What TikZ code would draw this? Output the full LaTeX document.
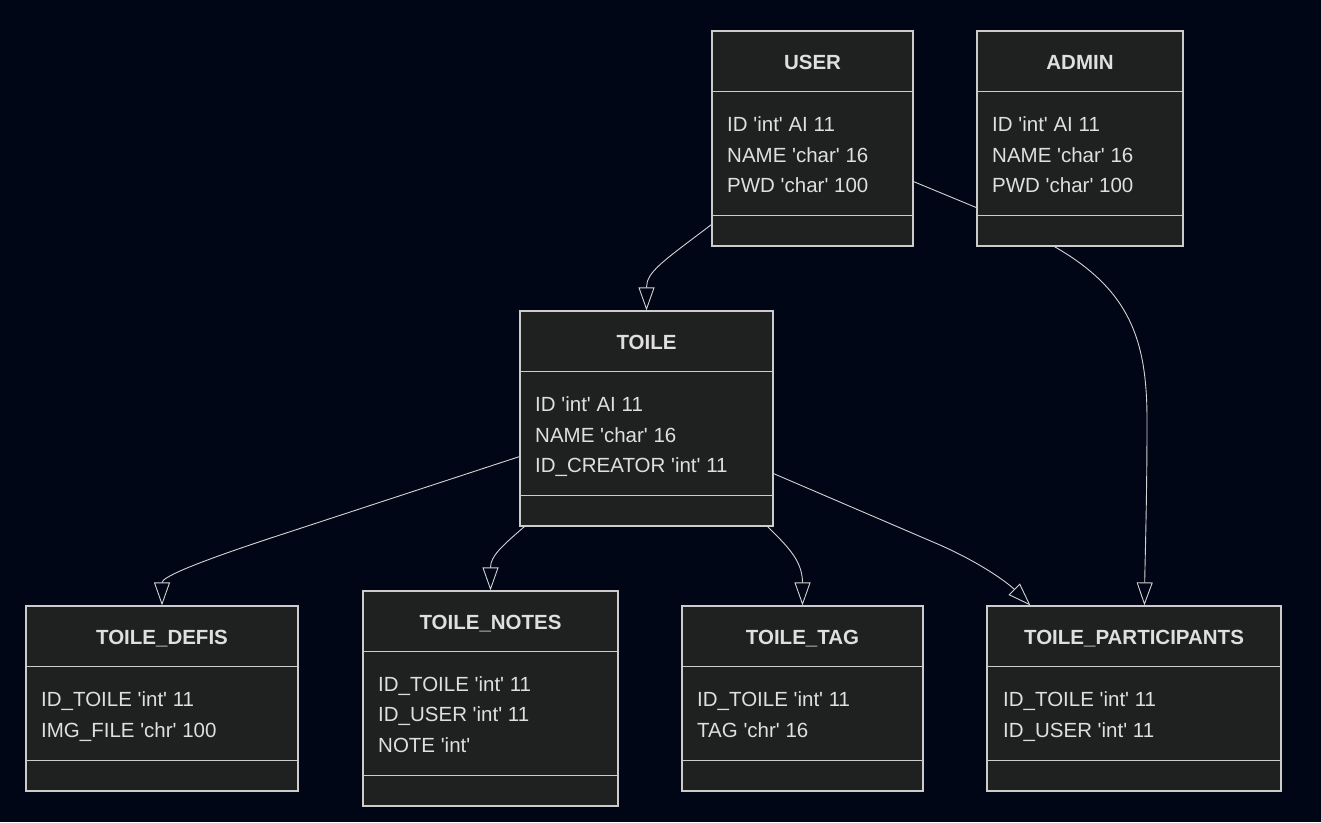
\documentclass[tikz,border=0pt]{standalone}
\usepackage{fontspec}
\newfontfamily\erdfont{Liberation Sans}
\usetikzlibrary{arrows.meta,calc}
\definecolor{erdbg}{HTML}{000615}
\definecolor{erdfill}{HTML}{1F2020}
\definecolor{erdborder}{HTML}{CCCCCC}
\definecolor{erdtext}{HTML}{E0DFDF}
\definecolor{erdline}{HTML}{D3D3D3}
\tikzset{
  classbox/.style={draw=erdborder, fill=erdfill, line width=1.2pt, inner sep=0pt},
  divider/.style={draw=erdborder, line width=1.2pt},
  classtitle/.style={text=erdtext, inner sep=0pt, text height=14.7pt, text depth=0pt,
    font=\erdfont\bfseries\fontsize{20.5}{24}\selectfont},
  attr/.style={text=erdtext, inner sep=0pt, anchor=west, text height=14.7pt, text depth=0pt,
    font=\erdfont\fontsize{20.5}{24}\selectfont},
  link/.style={draw=erdline, line width=0.9pt},
  inherit/.style={link, -{Triangle[open, width=16pt, length=23pt, line width=0.9pt]}}
}
\begin{document}
\begin{tikzpicture}[x=1pt, y=-1pt]
        \fill[erdbg] (0,0) rectangle (1321,822);
        \useasboundingbox (0,0) rectangle (1321,822);
        %% boxes
        \node[classbox, minimum width=201pt, minimum height=215pt] (user) at (812.5,138.5) {};
        \node[classbox, minimum width=206pt, minimum height=215pt] (admin) at (1080,138.5) {};
        \node[classbox, minimum width=253pt, minimum height=215pt] (toile) at (646.5,418.5) {};
        \node[classbox, minimum width=272pt, minimum height=185pt] (defis) at (162,698.5) {};
        \node[classbox, minimum width=255pt, minimum height=215pt] (notes) at (490.5,698.5) {};
        \node[classbox, minimum width=241pt, minimum height=185pt] (tag) at (802.5,698.5) {};
        \node[classbox, minimum width=294pt, minimum height=185pt] (part) at (1134,698.5) {};
        %% dividers
        \draw[divider] ([yshift=-61pt]user.north west) -- ([yshift=-61pt]user.north east);
        \draw[divider] ([yshift=31pt]user.south west) -- ([yshift=31pt]user.south east);
        \draw[divider] ([yshift=-61pt]admin.north west) -- ([yshift=-61pt]admin.north east);
        \draw[divider] ([yshift=31pt]admin.south west) -- ([yshift=31pt]admin.south east);
        \draw[divider] ([yshift=-61pt]toile.north west) -- ([yshift=-61pt]toile.north east);
        \draw[divider] ([yshift=31pt]toile.south west) -- ([yshift=31pt]toile.south east);
        \draw[divider] ([yshift=-61pt]defis.north west) -- ([yshift=-61pt]defis.north east);
        \draw[divider] ([yshift=31pt]defis.south west) -- ([yshift=31pt]defis.south east);
        \draw[divider] ([yshift=-61pt]notes.north west) -- ([yshift=-61pt]notes.north east);
        \draw[divider] ([yshift=31pt]notes.south west) -- ([yshift=31pt]notes.south east);
        \draw[divider] ([yshift=-61pt]tag.north west) -- ([yshift=-61pt]tag.north east);
        \draw[divider] ([yshift=31pt]tag.south west) -- ([yshift=31pt]tag.south east);
        \draw[divider] ([yshift=-61pt]part.north west) -- ([yshift=-61pt]part.north east);
        \draw[divider] ([yshift=31pt]part.south west) -- ([yshift=31pt]part.south east);
        %% USER
        \node[classtitle] (usertitle) at (812.5,62) {USER};
        \node[attr] (userid) at (727,124) {ID 'int' AI 11};
        \node[attr] (username) at (727,155) {NAME 'char' 16};
        \node[attr] (userpwd) at (727,185) {PWD 'char' 100};
        %% ADMIN
        \node[classtitle] (admintitle) at (1080,62) {ADMIN};
        \node[attr] (adminid) at (992,124) {ID 'int' AI 11};
        \node[attr] (adminname) at (992,155) {NAME 'char' 16};
        \node[attr] (adminpwd) at (992,185) {PWD 'char' 100};
        %% TOILE
        \node[classtitle] (toiletitle) at (646.5,342) {TOILE};
        \node[attr] (toileid) at (535,404) {ID 'int' AI 11};
        \node[attr] (toilename) at (535,435) {NAME 'char' 16};
        \node[attr] (toilecreator) at (535,465) {ID\_CREATOR 'int' 11};
        %% TOILE_DEFIS
        \node[classtitle] (defistitle) at (162,637) {TOILE\_DEFIS};
        \node[attr] (defistoile) at (41,699) {ID\_TOILE 'int' 11};
        \node[attr] (defisimg) at (41,730) {IMG\_FILE 'chr' 100};
        %% TOILE_NOTES
        \node[classtitle] (notestitle) at (490.5,622) {TOILE\_NOTES};
        \node[attr] (notestoile) at (378,684) {ID\_TOILE 'int' 11};
        \node[attr] (notesuser) at (378,714) {ID\_USER 'int' 11};
        \node[attr] (notesnote) at (378,745) {NOTE 'int'};
        %% TOILE_TAG
        \node[classtitle] (tagtitle) at (802.5,637) {TOILE\_TAG};
        \node[attr] (tagtoile) at (697,699) {ID\_TOILE 'int' 11};
        \node[attr] (tagtag) at (697,730) {TAG 'chr' 16};
        %% TOILE_PARTICIPANTS
        \node[classtitle] (parttitle) at (1134,637) {TOILE\_PARTICIPANTS};
        \node[attr] (parttoile) at (1003,699) {ID\_TOILE 'int' 11};
        \node[attr] (partuser) at (1003,730) {ID\_USER 'int' 11};
        %% links
        \draw[inherit] ([yshift=22pt]user.south west) .. controls (662,262) and (646.5,272) .. (toile.north);
        \draw[link] ([yshift=65pt]user.south east) -- ([yshift=39pt]admin.south west);
        \draw[inherit] ([xshift=78pt]admin.south west) .. controls (1130,290) and (1147,340) .. (1147,420)
          .. controls (1147,500) and (1145,560) .. ([xshift=158pt]part.north west);
        \draw[inherit] ([yshift=70pt]toile.south west) -- (280,535) .. controls (185,566) and (162,578) .. (defis.north);
        \draw[inherit] ([xshift=5pt]toile.south west) .. controls (502,546) and (490.5,556) .. (notes.north);
        \draw[inherit] ([xshift=-6pt]toile.south east) .. controls (786,545) and (802.5,560) .. (tag.north);
        \draw[inherit] ([yshift=53pt]toile.south east) -- (940,545) .. controls (985,565) and (1010,585) .. ([xshift=44pt]part.north west);
      \end{tikzpicture}
\end{document}
